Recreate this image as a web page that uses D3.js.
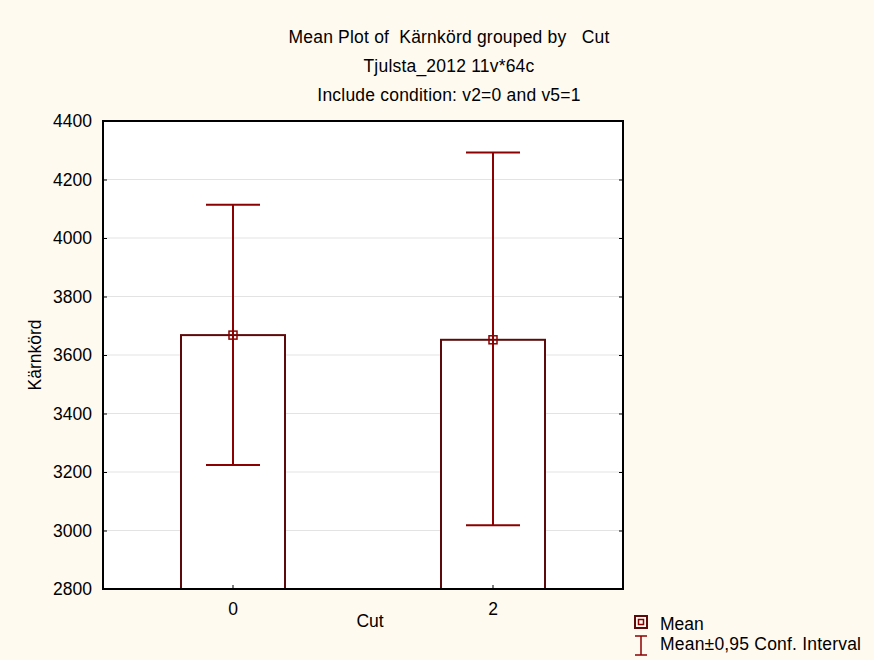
<!DOCTYPE html>
<html lang="en">
<head>
  <meta charset="UTF-8">
  <title>Mean Plot of Kärnkörd grouped by Cut</title>
  <script src="https://cdn.jsdelivr.net/npm/d3@7"></script>
  <style>
    body { margin: 0; background: #fffaf0; }
    text { font-family: "Liberation Sans", Arial, sans-serif; fill: #000; }
  </style>
</head>
<body>
  <div id="chart"></div>
  <script>

  // data
  const cuts = ["0", "2"];
  const means = [3668, 3652];
  const ciLow = [3224, 3018];
  const ciHigh = [4114, 4292];
  const yTicks = [2800, 3000, 3200, 3400, 3600, 3800, 4000, 4200, 4400];

  const width = 874;
  const height = 660;
  const margin = {top: 121, left: 103, right: 251, bottom: 71};
  const plotWidth = width - margin.left - margin.right;
  const plotHeight = height - margin.top - margin.bottom;

  const barColor = "#5c0a0a";
  const ciColor = "#8b0000";
  const fontSize = "17.5px";

  const root = d3.select("#chart")
    .append("svg")
      .attr("width", width)
      .attr("height", height)
      .style("background", "#fffaf0");

  // titles
  const titles = ["Mean Plot of  Kärnkörd grouped by   Cut",
                  "Tjulsta_2012 11v*64c",
                  "Include condition: v2=0 and v5=1"];
  root.selectAll(".title")
    .data(titles)
    .enter()
    .append("text")
      .attr("class", "title")
      .attr("x", 449)
      .attr("y", (d, i) => 43 + i * 29)
      .attr("text-anchor", "middle")
      .style("font-size", fontSize)
      .style("letter-spacing", "0.2px")
      .style("white-space", "pre")
      .text(d => d);

  const svg = root.append("g")
    .attr("transform", "translate(" + margin.left + "," + margin.top + ")");

  const x = d3.scaleBand()
    .domain(cuts)
    .range([0, plotWidth]);

  const y = d3.scaleLinear()
    .domain([2800, 4400])
    .range([plotHeight, 0]);

  svg.append("rect")
    .attr("width", plotWidth)
    .attr("height", plotHeight)
    .attr("fill", "#fff");

  // grid lines
  svg.append("g")
    .selectAll("line")
    .data(yTicks.slice(1, -1))
    .enter()
    .append("line")
      .attr("x1", 0)
      .attr("x2", plotWidth)
      .attr("y1", d => y(d))
      .attr("y2", d => y(d))
      .attr("stroke", "#e3e3e3")
      .attr("stroke-width", 1);

  // bars
  const barW = x.bandwidth() * 0.4;
  svg.append("g")
    .selectAll("rect")
    .data(cuts)
    .enter()
    .append("rect")
      .attr("x", d => x(d) + x.bandwidth() / 2 - barW / 2)
      .attr("y", (d, i) => y(means[i]))
      .attr("width", barW)
      .attr("height", (d, i) => plotHeight - y(means[i]))
      .attr("fill", "#fff")
      .attr("stroke", barColor)
      .attr("stroke-width", 2);

  // confidence intervals
  const capW = 54;
  const ci = svg.append("g")
    .selectAll("g")
    .data(cuts)
    .enter()
    .append("g")
      .attr("stroke", ciColor)
      .attr("stroke-width", 2);

  ci.append("line")
    .attr("x1", d => x(d) + x.bandwidth() / 2)
    .attr("x2", d => x(d) + x.bandwidth() / 2)
    .attr("y1", (d, i) => y(ciLow[i]))
    .attr("y2", (d, i) => y(ciHigh[i]));

  ci.append("line")
    .attr("x1", d => x(d) + x.bandwidth() / 2 - capW / 2)
    .attr("x2", d => x(d) + x.bandwidth() / 2 + capW / 2)
    .attr("y1", (d, i) => y(ciHigh[i]))
    .attr("y2", (d, i) => y(ciHigh[i]));

  ci.append("line")
    .attr("x1", d => x(d) + x.bandwidth() / 2 - capW / 2)
    .attr("x2", d => x(d) + x.bandwidth() / 2 + capW / 2)
    .attr("y1", (d, i) => y(ciLow[i]))
    .attr("y2", (d, i) => y(ciLow[i]));

  // mean markers
  ci.append("rect")
    .attr("x", d => x(d) + x.bandwidth() / 2 - 4)
    .attr("y", (d, i) => y(means[i]) - 4)
    .attr("width", 8)
    .attr("height", 8)
    .attr("fill", "none")
    .attr("stroke-width", 1.5);

  // axes, ticks pointing inward
  svg.append("g")
    .call(d3.axisLeft(y).tickValues(yTicks).tickFormat(d3.format("d"))
      .tickSize(-4).tickPadding(11))
    .call(g => g.select(".domain").remove())
    .call(g => g.selectAll("text")
      .style("font-size", fontSize)
      .style("font-family", "Liberation Sans, Arial, sans-serif"));

  svg.append("g")
    .attr("transform", "translate(" + plotWidth + ",0)")
    .call(d3.axisRight(y).tickValues(yTicks).tickSize(-4).tickFormat(""))
    .call(g => g.select(".domain").remove());

  svg.append("g")
    .attr("transform", "translate(0," + plotHeight + ")")
    .call(d3.axisBottom(x).tickSize(-4).tickPadding(14))
    .call(g => g.select(".domain").remove())
    .call(g => g.selectAll("text")
      .style("font-size", fontSize)
      .style("font-family", "Liberation Sans, Arial, sans-serif"));

  svg.append("rect")
    .attr("width", plotWidth)
    .attr("height", plotHeight)
    .attr("fill", "none")
    .attr("stroke", "#000")
    .attr("stroke-width", 2);

  // axis titles
  svg.append("text")
    .attr("x", plotWidth / 2 + 7)
    .attr("y", plotHeight + 38)
    .attr("text-anchor", "middle")
    .style("font-size", fontSize)
    .text("Cut");

  svg.append("text")
    .attr("transform", "rotate(-90)")
    .attr("x", -(355 - margin.top))
    .attr("y", -62)
    .attr("text-anchor", "middle")
    .style("font-size", fontSize)
    .text("Kärnkörd");

  // legend
  const legend = root.append("g")
    .attr("transform", "translate(641,623)");

  legend.append("rect")
    .attr("x", -6).attr("y", -7)
    .attr("width", 12).attr("height", 12)
    .attr("fill", "none")
    .attr("stroke", barColor)
    .attr("stroke-width", 2);
  legend.append("rect")
    .attr("x", -2.5).attr("y", -3.5)
    .attr("width", 5).attr("height", 5)
    .attr("fill", "none")
    .attr("stroke", ciColor)
    .attr("stroke-width", 1.5);
  legend.append("text")
    .attr("x", 19).attr("y", 7)
    .style("font-size", fontSize)
    .text("Mean");

  const bar = legend.append("g")
    .attr("stroke", ciColor)
    .attr("stroke-width", 1.5);
  bar.append("line").attr("x1", -6).attr("x2", 6).attr("y1", 13).attr("y2", 13);
  bar.append("line").attr("x1", 0).attr("x2", 0).attr("y1", 13).attr("y2", 32);
  bar.append("line").attr("x1", -6).attr("x2", 6).attr("y1", 32).attr("y2", 32);
  legend.append("text")
    .attr("x", 19).attr("y", 27)
    .style("font-size", fontSize)
    .style("letter-spacing", "0.2px")
    .text("Mean±0,95 Conf. Interval");

  </script>
</body>
</html>
